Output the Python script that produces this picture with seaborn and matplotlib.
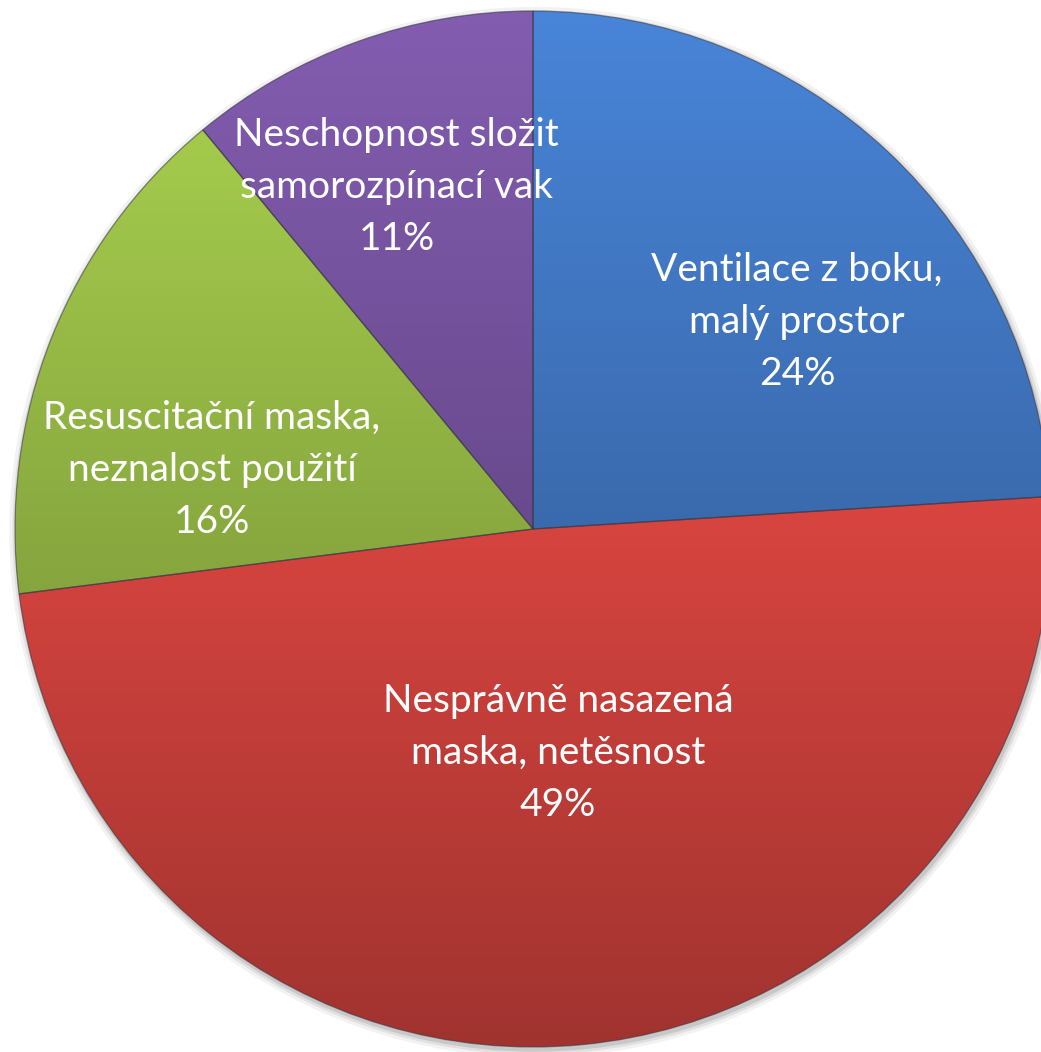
import numpy as np
import matplotlib
matplotlib.use("Agg")
import matplotlib.pyplot as plt
import matplotlib.colors as mcolors
import seaborn as sns

categories = ["Ventilace z boku,\nmalý prostor",
              "Nesprávně nasazená\nmaska, netěsnost",
              "Resuscitační maska,\nneznalost použití",
              "Neschopnost složit\nsamorozpínací vak"]
values = [24, 49, 16, 11]
colors = ["#3a6aad", "#d6443f", "#8aaa40", "#694a8d"]
label_pos = [(0.51, 0.40), (0.048, -0.432), (-0.62, 0.114), (-0.263, 0.66)]

sns.set_theme(style="white")
plt.rcParams["font.family"] = ["Lato", "DejaVu Sans"]

fig = plt.figure(figsize=(10.41, 10.52), dpi=100)
ax = fig.add_axes([0, 0, 1, 1])

# soft shadow behind the pie
for r, a in [(1.014, 0.08), (1.008, 0.12), (1.003, 0.18)]:
    ax.add_patch(plt.Circle((0.003, -0.006), r, color="#606060", alpha=a, lw=0, zorder=0))

wedges, _ = ax.pie(values, startangle=90, counterclock=False, colors=colors,
                   wedgeprops=dict(linewidth=0.9, edgecolor=(0.2, 0.2, 0.25, 0.55)))

# vertical shading, lighter at the top
yy = np.linspace(-1, 1, 400)[:, None]
shade = 1 + 0.25 * yy
for w, c in zip(wedges, colors):
    base = np.array(mcolors.to_rgb(c))
    img = np.clip(shade[:, :, None] * base[None, None, :], 0, 1)
    img = np.repeat(img, 2, axis=1)
    im = ax.imshow(img, extent=[-1, 1, -1, 1], origin="lower", interpolation="bilinear",
                   zorder=w.get_zorder() + 0.1, aspect="auto")
    im.set_clip_path(w)
    w.set_facecolor("none")
    w.set_zorder(w.get_zorder() + 0.2)

for cat, v, (x, y) in zip(categories, values, label_pos):
    ax.text(x, y, f"{cat}\n{v}%", color="white", fontsize=28, ha="center", va="center",
            multialignment="center", linespacing=1.56, zorder=5)

ax.set_xlim(-533 / 518, (1041 - 533) / 518)
ax.set_ylim((529 - 1052) / 518, 529 / 518)
ax.set_aspect("auto")
ax.axis("off")
fig.savefig("out.png", dpi=100, facecolor="white")
